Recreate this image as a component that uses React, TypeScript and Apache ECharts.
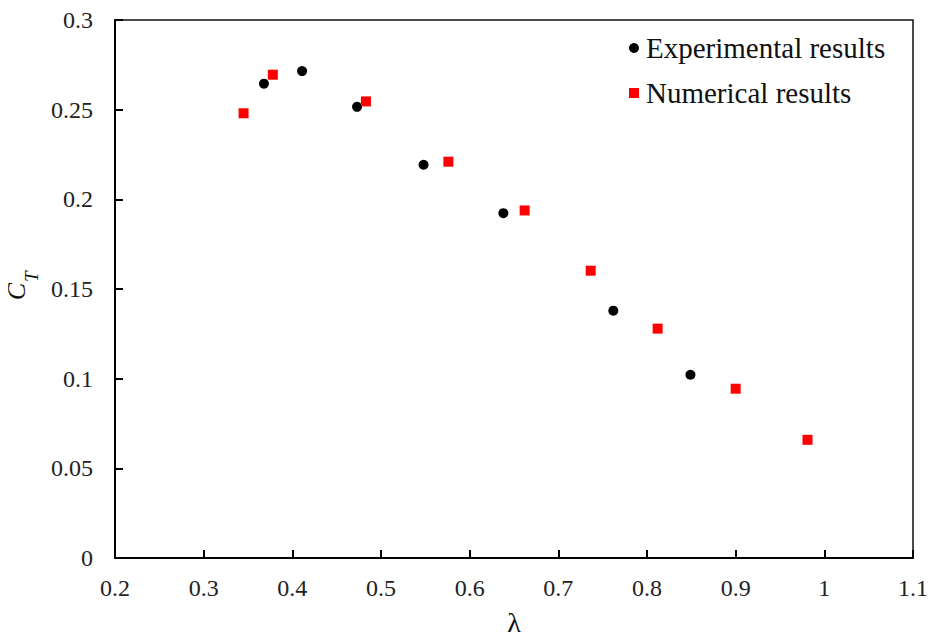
import React, { useEffect, useRef } from "react";
import * as echarts from "echarts";

// Thrust coefficient C_T against tip speed ratio λ
const expLambda = [0.368, 0.411, 0.473, 0.548, 0.638, 0.762, 0.849];
const expCT = [0.2645, 0.2715, 0.2516, 0.2193, 0.1923, 0.1379, 0.1022];

const numLambda = [0.345, 0.378, 0.483, 0.576, 0.662, 0.7365, 0.812, 0.9, 0.981];
const numCT = [0.248, 0.2695, 0.2546, 0.221, 0.1938, 0.1602, 0.1279, 0.0944, 0.0659];

const seriesNames = ["Experimental results", "Numerical results"];

const FONT = "'Liberation Serif', 'Times New Roman', serif";

const GRID = { left: 115, top: 20, width: 798, height: 538 };

export default function App() {
  const ref = useRef<HTMLDivElement>(null);

  useEffect(() => {
    if (!ref.current) return;
    const chart = echarts.init(ref.current, null, { renderer: "svg" });

    const pair = (xs: number[], ys: number[]) => xs.map((x, i) => [x, ys[i]]);
    const fmt = (v: number) => String(+v.toFixed(2));

    chart.setOption({
      animation: false,
      backgroundColor: "#fff",
      grid: {
        ...GRID,
        outerBoundsMode: "none",
        containLabel: false,
        show: true,
        borderColor: "#111",
        borderWidth: 1.5,
        backgroundColor: "transparent",
      },
      legend: {
        orient: "vertical",
        left: 624,
        top: 28,
        itemWidth: 10,
        itemHeight: 10,
        itemGap: 15,
        textStyle: {
          fontFamily: FONT,
          fontSize: 29,
          color: "#111",
          lineHeight: 30,
          padding: [0, 0, 0, 2],
        },
        data: [
          { name: seriesNames[0], icon: "circle" },
          { name: seriesNames[1], icon: "rect" },
        ],
      },
      xAxis: {
        type: "value",
        min: 0.2,
        max: 1.1,
        interval: 0.1,
        name: "λ",
        nameLocation: "middle",
        nameGap: 50,
        nameTextStyle: { fontFamily: FONT, fontSize: 28, color: "#111" },
        axisLine: { show: true, onZero: false, lineStyle: { color: "#000", width: 2 } },
        axisTick: { show: true, inside: true, length: 8, lineStyle: { color: "#000", width: 2 } },
        axisLabel: {
          fontFamily: FONT,
          fontSize: 24,
          color: "#222",
          margin: 18,
          formatter: fmt,
        },
        splitLine: { show: false },
      },
      yAxis: {
        type: "value",
        min: 0,
        max: 0.3,
        interval: 0.05,
        axisLine: { show: true, onZero: false, lineStyle: { color: "#000", width: 2 } },
        axisTick: { show: true, inside: true, length: 8, lineStyle: { color: "#000", width: 2 } },
        axisLabel: {
          fontFamily: FONT,
          fontSize: 24,
          color: "#222",
          margin: 22,
          formatter: fmt,
        },
        splitLine: { show: false },
      },
      graphic: [
        {
          type: "group",
          x: 29,
          y: 283,
          rotation: Math.PI / 2,
          children: [
            {
              type: "text",
              x: 0,
              y: 0,
              style: {
                text: "C",
                fontFamily: FONT,
                fontStyle: "italic",
                fontSize: 26,
                fill: "#111",
                align: "right",
                verticalAlign: "bottom",
              },
            },
            {
              type: "text",
              x: 1,
              y: 12,
              style: {
                text: "T",
                fontFamily: FONT,
                fontStyle: "italic",
                fontSize: 19,
                fill: "#111",
                align: "left",
                verticalAlign: "bottom",
              },
            },
          ],
        },
      ],
      series: [
        {
          name: seriesNames[0],
          type: "scatter",
          symbol: "circle",
          symbolSize: 10,
          itemStyle: { color: "#000", opacity: 1 },
          data: pair(expLambda, expCT),
        },
        {
          name: seriesNames[1],
          type: "scatter",
          symbol: "rect",
          symbolSize: 10,
          itemStyle: { color: "#ff0000", opacity: 1 },
          data: pair(numLambda, numCT),
        },
      ],
    });

    return () => chart.dispose();
  }, []);

  return <div ref={ref} style={{ width: 937, height: 640, marginLeft: -8, marginTop: -8 }} />;
}
